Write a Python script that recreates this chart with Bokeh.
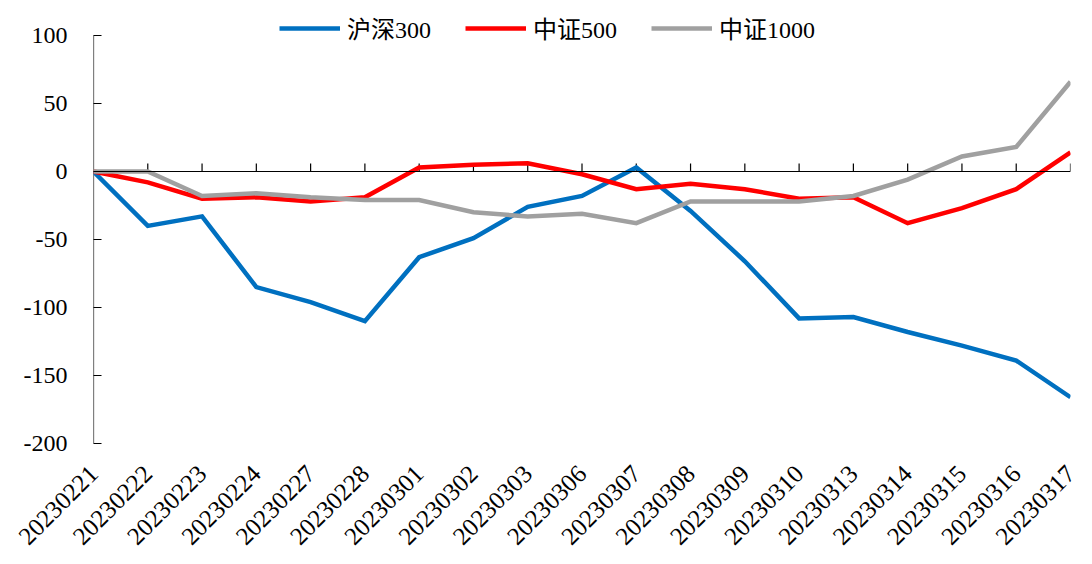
import math
from bokeh.plotting import figure
from bokeh.models import Range1d, FixedTicker, Legend, LegendItem, Span, ColumnDataSource
from bokeh.embed import file_html
from bokeh.resources import INLINE

dates = ["20230221", "20230222", "20230223", "20230224", "20230227", "20230228",
         "20230301", "20230302", "20230303", "20230306", "20230307", "20230308",
         "20230309", "20230310", "20230313", "20230314", "20230315", "20230316",
         "20230317"]
hs300 = [0, -40, -33, -85, -96, -110, -63, -49, -26, -18, 3, -29, -66, -108, -107,
         -118, -128, -139, -166]
zz500 = [0, -8, -20, -19, -22, -19, 3, 5, 6, -2, -13, -9, -13, -20, -19, -38, -27,
         -13, 14]
zz1000 = [0, 0, -18, -16, -19, -21, -21, -30, -33, -31, -38, -22, -22, -22, -18, -6,
          11, 18, 66]
series_names = ["沪深300", "中证500", "中证1000"]
colors = ["#0070C0", "#FF0000", "#A0A0A0"]
y_ticks = [-200, -150, -100, -50, 0, 50, 100]

FONT = "'Liberation Serif', 'Noto Sans CJK SC', serif"
NUM_FONT = "Liberation Serif"

x = list(range(len(dates)))

# frame extends above the top tick to leave room for the legend
TOP_PX, AXIS_TOP_PX, BOTTOM_PX = 10, 35, 443
y_lo, y_hi = y_ticks[0], y_ticks[-1]
y_end = y_lo + (y_hi - y_lo) * (BOTTOM_PX - TOP_PX) / (BOTTOM_PX - AXIS_TOP_PX)

p = figure(width=1084, height=556, output_backend="svg", toolbar_location=None,
           x_range=Range1d(0, len(dates) - 1), y_range=Range1d(y_lo, y_end),
           min_border_left=93, min_border_right=14, min_border_top=TOP_PX,
           min_border_bottom=556 - BOTTOM_PX)
p.outline_line_color = None
p.xgrid.visible = False
p.ygrid.visible = False
p.background_fill_color = "white"

# y axis line only between the lowest and highest tick
axis_src = ColumnDataSource(dict(x0=[0], x1=[0], y0=[y_lo], y1=[y_hi]))
p.segment(x0="x0", x1="x1", y0="y0", y1="y1", source=axis_src, line_color="black",
          line_width=1.2)

# zero line with upward ticks
p.add_layout(Span(location=0, dimension="width", line_color="black", line_width=1.2))
tick_src = ColumnDataSource(dict(x=x[1:], y0=[0] * (len(x) - 1), y1=[5.8] * (len(x) - 1)))
p.segment(x0="x", x1="x", y0="y0", y1="y1", source=tick_src, line_color="black",
          line_width=1.2)

renderers = []
for vals, c in zip([hs300, zz500, zz1000], colors):
    r = p.line(x, vals, line_color=c, line_width=4.5, line_join="miter")
    renderers.append(r)

# y axis
ya = p.yaxis[0]
ya.ticker = FixedTicker(ticks=y_ticks)
ya.major_label_overrides = {v: str(v) for v in y_ticks}
ya.major_tick_in = 8
ya.major_tick_out = 0
ya.minor_tick_line_color = None
ya.axis_line_color = None
ya.major_tick_line_color = "black"
ya.major_tick_line_width = 1.2
ya.major_label_text_font = NUM_FONT
ya.major_label_text_font_size = "24px"
ya.major_label_text_color = "black"
ya.major_label_standoff = 26

# x axis (labels only)
xa = p.xaxis[0]
xa.ticker = FixedTicker(ticks=x)
xa.major_label_overrides = {i: d for i, d in enumerate(dates)}
xa.major_label_orientation = math.pi / 4
xa.axis_line_color = None
xa.major_tick_line_color = None
xa.minor_tick_line_color = None
xa.major_tick_in = 0
xa.major_tick_out = 0
xa.major_label_text_font = NUM_FONT
xa.major_label_text_font_size = "25px"
xa.major_label_text_color = "black"
xa.major_label_standoff = 26

legend = Legend(items=[LegendItem(label=n, renderers=[r]) for n, r in zip(series_names, renderers)],
                orientation="horizontal", location=(186, 398))
legend.glyph_width = 61
legend.glyph_height = 20
legend.label_standoff = 7
legend.spacing = 34
legend.padding = 0
legend.margin = 0
legend.border_line_color = None
legend.background_fill_alpha = 0
legend.label_text_font = FONT
legend.label_text_font_size = "24px"
legend.label_text_color = "black"
p.add_layout(legend)

open("out.html", "w").write(file_html(p, INLINE))
